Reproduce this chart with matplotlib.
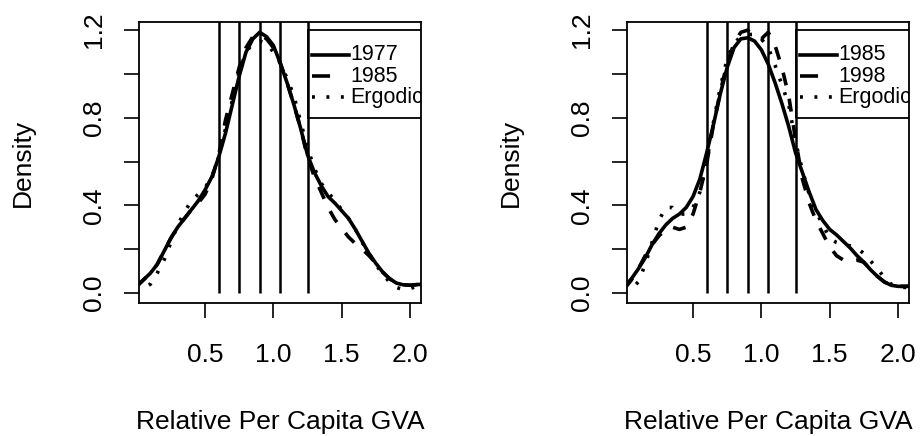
import numpy as np
import matplotlib
matplotlib.use('Agg')
from matplotlib import pyplot as plt
from matplotlib.patches import Rectangle

plt.rcParams['font.family'] = ['Liberation Sans', 'DejaVu Sans']

# density estimates, on a 0.05 grid
grid = np.round(np.arange(0.0, 2.101, 0.05), 2)

d1977 = [0.03, 0.06, 0.09, 0.13, 0.19, 0.25, 0.30, 0.34, 0.38, 0.42, 0.47, 0.53, 0.62,
         0.73, 0.86, 0.99, 1.10, 1.16, 1.19, 1.17, 1.13, 1.05, 0.96, 0.86, 0.75, 0.63,
         0.55, 0.49, 0.44, 0.41, 0.375, 0.34, 0.29, 0.235, 0.18, 0.135, 0.095, 0.065,
         0.045, 0.037, 0.035, 0.038, 0.04]
d1985a = [0.03, 0.06, 0.09, 0.13, 0.19, 0.25, 0.30, 0.34, 0.38, 0.41, 0.45, 0.52, 0.63,
          0.79, 0.91, 1.03, 1.12, 1.17, 1.18, 1.16, 1.12, 1.05, 0.96, 0.86, 0.75, 0.62,
          0.53, 0.46, 0.39, 0.335, 0.295, 0.255, 0.225, 0.20, 0.17, 0.135, 0.095, 0.065,
          0.045, 0.037, 0.035, 0.038, 0.04]
ergo_a = [0.0, 0.02, 0.04, 0.09, 0.15, 0.23, 0.31, 0.37, 0.42, 0.45, 0.48, 0.53, 0.62,
          0.75, 0.88, 1.01, 1.10, 1.14, 1.15, 1.14, 1.10, 1.05, 0.98, 0.90, 0.78, 0.66,
          0.57, 0.50, 0.46, 0.42, 0.38, 0.34, 0.29, 0.23, 0.18, 0.13, 0.085, 0.05,
          0.025, 0.015, 0.02, 0.03, 0.035]

d1985b = [0.03, 0.065, 0.11, 0.16, 0.22, 0.27, 0.31, 0.34, 0.36, 0.39, 0.44, 0.52, 0.64,
          0.77, 0.91, 1.03, 1.12, 1.16, 1.165, 1.15, 1.11, 1.045, 0.96, 0.865, 0.76, 0.64,
          0.55, 0.46, 0.38, 0.33, 0.29, 0.265, 0.235, 0.205, 0.17, 0.14, 0.105, 0.075,
          0.05, 0.035, 0.03, 0.03, 0.032]
d1998 = [0.02, 0.06, 0.11, 0.17, 0.22, 0.26, 0.29, 0.30, 0.29, 0.30, 0.36, 0.46, 0.59,
         0.77, 0.92, 1.05, 1.14, 1.19, 1.20, 1.17, 1.16, 1.19, 1.13, 1.03, 0.90, 0.70,
         0.52, 0.41, 0.33, 0.27, 0.21, 0.17, 0.15, 0.145, 0.15, 0.14, 0.105, 0.075,
         0.05, 0.035, 0.03, 0.03, 0.03]
ergo_b = [0.0, 0.02, 0.05, 0.13, 0.23, 0.33, 0.39, 0.39, 0.36, 0.36, 0.39, 0.46, 0.60,
          0.78, 0.94, 1.07, 1.14, 1.17, 1.18, 1.18, 1.16, 1.12, 1.04, 0.95, 0.86, 0.69,
          0.56, 0.45, 0.37, 0.31, 0.25, 0.23, 0.22, 0.215, 0.205, 0.18, 0.145, 0.11,
          0.07, 0.04, 0.025, 0.025, 0.03]

cuts = [0.6, 0.75, 0.9, 1.05, 1.25]
xticks = [0.5, 1.0, 1.5, 2.0]
yticks = [0.0, 0.2, 0.4, 0.6, 0.8, 1.0, 1.2]
yticklabels = ['0.0', '', '0.4', '', '0.8', '', '1.2']

panels = [
    (d1977, d1985a, ergo_a, ['1977', '1985', 'Ergodic']),
    (d1985b, d1998, ergo_b, ['1985', '1998', 'Ergodic']),
]

W, H = 923, 436
fig = plt.figure(figsize=(W / 100, H / 100), dpi=100)
lefts = [139, 627]
ax_w, top, bottom = 282, 22, 303

lw = 2.6
dash = (3.6, 3.8)
dot = (0.8, 3.2)
for left, (s1, s2, s3, names) in zip(lefts, panels):
    ax = fig.add_axes([left / W, (H - bottom) / H, ax_w / W, (bottom - top) / H])
    ax.plot(grid, s1, color='black', lw=lw)
    ax.plot(grid, s2, color='black', lw=lw, dashes=dash)
    ax.plot(grid, s3, color='black', lw=lw, dashes=dot)
    ax.vlines(cuts, 0, 2, color='black', lw=1.8)
    ax.set_xlim(0.017, 2.08)
    ax.set_ylim(-0.046, 1.237)

    # legend drawn inside the data region, clipped by the axes like R does
    ax.add_patch(Rectangle((1.25, 0.8), 2, 0.4, fill=False, lw=1.3, ec='black'))
    rows = [1.087, 0.99, 0.893]
    styles = [dict(), dict(dashes=(5.0, 5.5)), dict(dashes=dot)]
    for ry, name, st in zip(rows, names, styles):
        ax.plot([1.28, 1.55], [ry, ry], color='black', lw=lw, **st)
        ax.text(1.56, ry, name, fontsize=15.5, va='center', ha='left', clip_on=True)

    ax.set_xticks(xticks)
    ax.set_xticklabels(['0.5', '1.0', '1.5', '2.0'])
    ax.set_yticks(yticks)
    ax.set_yticklabels(yticklabels, rotation=90, va='center')
    ax.tick_params(axis='both', length=11, width=1.2, labelsize=19)
    ax.tick_params(axis='x', pad=18)
    ax.tick_params(axis='y', pad=12.5)
    for sp in ax.spines.values():
        sp.set_linewidth(1.3)
    ax.text(0.5, -0.425, 'Relative Per Capita GVA', fontsize=19, ha='center', va='center',
            transform=ax.transAxes)
    ax.text(-0.411, 0.5, 'Density', fontsize=19, ha='center', va='center', rotation=90,
            transform=ax.transAxes)

fig.savefig('out.png', dpi=100)
